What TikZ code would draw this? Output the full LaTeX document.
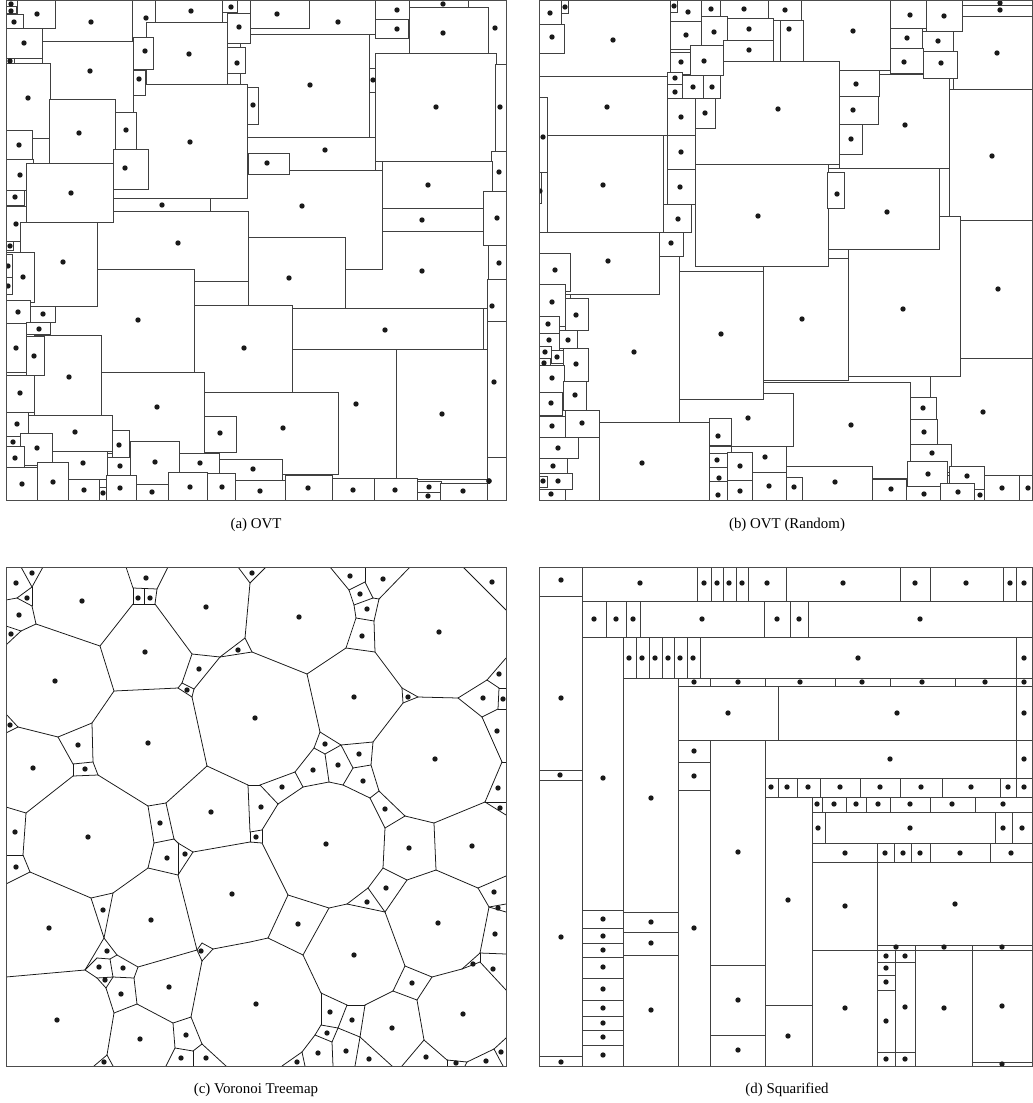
\documentclass[tikz,border=0pt]{standalone}
\usepackage{fontspec}
\setmainfont{Liberation Serif}

% cells: x1/y1/x2/y2/site x/site y (pixels, y downwards), drawn in this order
\newcommand{\cellsOVT}{42/0/132/41/91/22, 17/0/55/28/37/14, 6/0/17/6/11/4, 6/6/16/13/11/11,
  6/14/23/29/14/22, 6/28/42/58/24/43, 250/0/375/34/338/22, 250/0/309/28/277/14,
  132/0/155/37/146/18, 155/0/222/22/191/11, 222/0/237/12/231/7, 240/34/369/137/310/85,
  345/231/488/308/422/271, 210/170/382/269/302/206, 247/137/375/170/325/150,
  248/153/289/174/267/163, 97/211/248/281/178/243, 113/84/247/198/190/142,
  146/22/227/84/189/54, 227/13/250/43/239/27, 133/37/153/69/145/51, 133/70/145/95/139/79,
  227/47/245/73/237/63, 42/41/133/116/90/71, 6/63/50/138/28/98, 6/58/14/63/10/61,
  49/99/115/163/79/133, 115/112/136/149/126/130, 113/149/148/189/125/168,
  6/130/32/159/19/145, 6/159/33/190/20/175, 26/163/113/222/71/193, 113/198/210/211/162/205,
  6/190/24/205/15/197, 6/206/26/241/16/224, 247/87/258/124/253/105, 369/68/376/92/373/80,
  375/0/409/19/397/10, 375/19/408/38/397/29, 468/0/506/64/495/28, 409/0/468/7/443/4,
  409/7/488/53/443/33, 375/53/496/161/436/107, 495/64/506/151/500/107,
  491/151/506/191/499/172, 382/161/492/208/428/185, 382/208/483/231/422/220,
  483/191/506/245/497/218, 488/245/506/279/499/263, 487/279/506/321/492/306,
  487/321/506/457/494/382, 487/457/506/500/489/481, 248/237/345/318/289/278,
  194/305/292/392/244/348, 292/308/483/349/385/330, 292/349/396/478/356/404,
  396/349/487/480/442/414, 416/479/489/483/489/481, 50/269/194/372/138/320,
  20/222/97/306/63/262, 6/241/13/250/10/246, 6/252/34/302/23/277, 6/254/12/277/8/266,
  6/277/12/294/8/286, 6/300/30/323/18/312, 30/306/55/322/43/314, 26/322/50/334/39/329,
  6/323/26/372/16/348, 34/335/101/415/69/377, 26/336/44/375/34/356,
  101/372/204/453/157/407, 204/392/338/474/283/428, 204/416/236/452/220/433,
  6/375/34/412/20/393, 6/412/28/436/17/424, 28/415/112/451/75/432,
  112/430/129/457/119/445, 6/436/20/446/13/442, 20/433/52/465/37/448,
  6/446/24/468/15/458, 52/451/107/479/83/463, 107/457/133/475/120/466,
  130/441/179/485/155/462, 179/453/219/473/200/463, 219/459/282/480/253/469,
  6/467/37/500/22/484, 37/462/68/500/53/482, 68/479/99/500/84/490, 99/487/106/500/103/493,
  106/475/136/500/120/488, 136/484/168/500/152/492, 168/472/207/500/190/487,
  207/473/235/500/222/487, 235/480/285/500/260/491, 285/475/332/500/308/488,
  332/478/374/500/353/490, 374/478/417/500/395/490, 417/481/441/492/429/487,
  417/492/440/500/428/496, 440/483/487/500/463/491}

\newcommand{\cellsRnd}{539/0/670/76/613/40, 539/0/561/24/550/13, 561/0/568/13/565/7,
  539/24/564/53/552/37, 670/0/701/21/688/12, 670/0/677/12/674/6, 701/0/720/16/711/9,
  720/0/768/18/744/9, 768/0/801/20/785/10, 801/0/890/70/853/31, 890/0/926/28/910/15,
  953/16/1032/89/997/53, 926/0/962/31/944/16, 962/0/1032/5/1000/3, 962/5/1032/16/1000/10,
  695/61/839/164/778/109, 670/21/701/49/686/35, 701/16/727/45/714/32, 727/18/773/40/749/29,
  780/20/803/61/789/29, 723/40/773/61/749/50, 949/89/1032/220/992/156,
  839/74/949/168/905/125, 890/28/922/48/907/38, 922/31/953/51/938/41, 890/48/923/73/904/62,
  923/51/957/78/941/63, 839/70/879/96/856/84, 839/96/878/124/853/110,
  839/124/862/154/851/139, 670/52/690/74/681/62, 690/45/723/75/704/61,
  667/72/682/84/675/78, 667/84/682/101/675/92, 682/75/703/98/693/87, 703/75/720/98/712/87,
  667/98/695/135/681/117, 695/98/715/128/705/113, 539/76/667/135/607/107,
  547/135/663/233/603/185, 539/97/547/172/543/137, 539/172/541/203/540/191,
  667/135/695/169/681/152, 667/169/695/204/680/187, 930/358/1032/475/983/412,
  760/382/910/478/851/425, 679/393/793/446/748/418, 763/258/848/380/802/319,
  679/271/763/399/721/334, 695/164/828/266/758/216, 848/216/960/376/903/309,
  828/168/939/249/887/212, 827/172/844/208/837/194, 960/220/1032/358/998/289,
  570/255/679/422/634/352, 539/232/659/294/608/261, 663/204/691/232/678/219,
  659/232/683/256/671/243, 539/253/570/291/555/270, 539/284/565/326/552/302,
  565/298/588/330/576/315, 539/316/559/333/548/324, 539/333/559/350/549/340,
  559/330/577/348/568/340, 563/348/588/381/576/364, 538/346/551/358/545/352,
  551/350/563/363/557/357, 539/358/550/367/544/363, 539/365/564/392/552/378,
  563/381/586/410/575/395, 539/392/562/415/551/403, 539/416/565/437/552/426,
  565/410/599/437/582/423, 539/437/578/458/558/448, 539/458/567/473/553/466,
  539/473/572/489/558/481, 539/476/547/487/543/481, 539/489/565/500/551/494,
  599/422/709/500/642/463, 709/418/731/445/718/436, 731/446/786/472/765/457,
  709/453/727/467/717/460, 709/467/730/481/719/478, 727/452/752/480/740/466,
  709/481/727/500/718/495, 727/480/752/500/740/491, 752/472/786/500/769/486,
  786/466/872/500/835/482, 786/477/802/500/794/487, 872/479/906/500/891/489,
  910/397/936/419/923/408, 910/419/937/444/924/432, 910/444/951/472/932/453,
  907/461/947/486/928/474, 906/486/940/500/924/494, 949/466/984/490/967/476,
  940/483/974/500/958/492, 974/489/987/500/980/495, 984/475/1019/500/1002/488,
  1019/475/1032/500/1028/488}

\newcommand{\cellsSq}{539/567/582/596/561/580, 539/596/582/770/561/698, 539/770/582/780/560/775,
  539/780/582/1056/561/937, 539/1056/582/1066/561/1062, 582/567/697/601/640/583,
  697/567/711/601/704/583, 711/567/723/601/717/583, 723/567/736/601/729/583,
  736/567/748/601/742/583, 748/567/786/601/767/583, 786/567/900/601/843/583,
  900/567/930/601/915/583, 930/567/1003/601/966/583, 1003/567/1016/601/1010/583,
  1016/567/1032/601/1024/583, 582/601/606/637/594/619, 606/601/626/637/616/619,
  626/601/640/637/633/619, 640/601/764/637/702/619, 764/601/790/637/777/619,
  790/601/808/637/799/619, 808/601/1032/637/920/619, 582/637/623/910/603/778,
  582/910/623/928/603/919, 582/928/623/943/603/936, 582/943/623/957/603/950,
  582/957/623/978/603/967, 582/978/623/1000/603/989, 582/1000/623/1016/603/1008,
  582/1016/623/1030/603/1023, 582/1030/623/1045/603/1037, 582/1045/623/1066/603/1055,
  623/637/636/678/629/658, 636/637/649/678/642/658, 649/637/662/678/655/658,
  662/637/674/678/668/658, 674/637/687/678/680/658, 687/637/700/678/693/658,
  700/637/1016/678/858/658, 1016/637/1032/678/1024/658, 623/678/678/912/651/798,
  623/912/678/932/651/922, 623/932/678/955/651/943, 623/955/678/1066/651/1010,
  678/678/710/686/694/682, 710/678/765/686/738/682, 765/678/835/686/800/682,
  835/678/890/686/862/682, 890/678/955/686/922/682, 955/678/1016/686/985/682,
  1016/678/1032/686/1024/682, 678/686/778/740/728/713, 778/686/1016/740/897/713,
  1016/686/1032/740/1024/713, 678/740/710/762/694/751, 678/762/710/790/694/776,
  678/790/710/1066/694/928, 710/740/765/965/738/852, 710/965/765/1035/738/1000,
  710/1035/765/1066/738/1050, 765/740/1016/778/890/759, 1016/740/1032/778/1024/759,
  765/778/778/797/771/787, 778/778/797/797/787/787, 797/778/820/797/808/787,
  820/778/860/797/840/787, 860/778/900/797/880/787, 900/778/942/797/921/787,
  942/778/1000/797/971/787, 1000/778/1016/797/1008/787, 1016/778/1032/797/1024/787,
  765/797/812/1005/788/900, 765/1005/812/1066/788/1036, 812/797/822/812/817/804,
  822/797/846/812/834/804, 846/797/866/812/856/804, 866/797/890/812/878/804,
  890/797/930/812/910/804, 930/797/975/812/952/804, 975/797/1032/812/1003/804,
  812/812/825/843/818/828, 825/812/995/843/910/828, 995/812/1012/843/1003/828,
  1012/812/1032/843/1022/828, 812/843/877/862/845/853, 877/843/894/862/885/853,
  894/843/911/862/903/853, 911/843/930/862/920/853, 930/843/990/862/960/853,
  990/843/1032/862/1011/853, 812/862/877/950/845/906, 812/950/877/1066/845/1008,
  877/862/1032/945/955/904, 877/945/915/950/896/947, 915/945/972/950/944/947,
  972/945/1032/950/1002/947, 877/950/895/962/886/956, 895/950/915/962/905/956,
  877/962/895/975/886/968, 877/975/895/990/886/982, 877/990/895/1052/886/1021,
  895/962/915/1052/905/1007, 877/1052/895/1066/886/1059, 895/1052/915/1066/905/1059,
  915/950/972/1066/944/1008, 972/950/1032/1062/1002/1006, 972/1062/1032/1066/1002/1064}

% voronoi edges x1/y1/x2/y2
\newcommand{\edgesVor}{21/567/32/587, 43/567/32/587, 32/587/17/598, 6/600/17/598, 17/598/32/606,
  32/587/32/606, 32/606/36/624, 6/626/21/631, 21/631/36/624, 21/631/6/645, 36/624/100/646,
  100/646/114/691, 100/646/133/604, 126/567/133/588, 133/588/157/589, 157/589/168/567,
  133/588/133/604, 157/589/155/604, 133/604/155/604, 144/589/144/604, 155/604/192/654,
  192/654/220/657, 192/654/182/683, 182/683/178/688, 178/688/192/697, 192/697/194/689,
  194/689/182/683, 194/689/220/657, 114/691/178/688, 192/697/207/766, 114/691/92/723,
  92/723/58/737, 58/737/18/727, 6/714/18/727, 18/727/6/733, 58/737/73/764, 92/723/93/762,
  73/764/93/762, 93/762/98/775, 73/764/73/776, 73/776/98/775, 73/776/26/813,
  98/775/148/806, 26/813/6/807, 26/813/23/855, 148/806/166/803, 166/803/207/766,
  148/806/154/843, 166/803/174/839, 207/766/248/785, 248/785/260/785, 248/785/250/832,
  220/657/245/638, 245/638/252/652, 220/657/252/652, 245/638/250/583, 250/583/238/567,
  250/583/266/567,
  252/652/307/674, 307/674/346/648, 307/674/320/732, 346/648/356/618, 356/618/374/621,
  374/621/375/652, 346/648/375/652, 356/618/354/605, 354/605/373/598, 373/598/379/599,
  379/599/374/621, 354/605/349/590, 349/590/365/582, 365/582/373/598, 349/590/330/567,
  365/582/365/567, 379/599/410/567, 463/567/506/610, 375/652/402/688, 402/688/418/697,
  402/688/403/703, 403/703/418/697, 418/697/458/698, 403/703/373/742, 458/698/487/680,
  487/680/506/658, 458/698/482/717, 487/680/499/688, 499/688/506/688, 499/688/498/709,
  498/709/482/717, 498/709/506/709, 482/717/502/762, 502/762/506/762, 502/762/485/802,
  485/802/506/802, 485/802/506/815, 485/802/434/823, 405/816/379/791, 379/791/371/765,
  371/765/373/742, 371/765/353/768, 353/768/341/745, 341/745/373/742, 341/745/325/754,
  325/754/329/782, 329/782/343/785, 343/785/353/768, 343/785/370/798, 370/798/379/791,
  370/798/385/828, 320/732/341/745, 320/732/314/748, 314/748/325/754, 314/748/295/772,
  295/772/303/787, 303/787/329/782, 295/772/260/785, 260/785/278/804, 278/804/303/787,
  278/804/262/830,
  6/855/23/855, 23/855/30/872, 30/872/6/884, 30/872/91/898, 91/898/113/893,
  113/893/148/868, 148/868/154/843, 154/843/174/839, 174/839/178/843, 178/843/193/852,
  178/843/178/875, 148/868/178/875, 178/875/193/852, 193/852/250/842, 178/875/197/950,
  91/898/104/938, 113/893/104/938, 104/938/85/970, 85/970/6/977, 104/938/117/955,
  117/955/138/967, 138/967/197/950, 197/950/202/943, 202/943/213/949, 213/949/202/961,
  202/961/197/950, 213/949/250/942, 202/961/191/1017, 85/970/97/978, 97/978/106/988,
  106/988/114/1013, 114/1013/137/1004, 137/1004/134/978, 134/978/138/967,
  134/978/113/977, 113/977/110/959, 110/959/117/955, 110/959/97/958, 97/958/85/970,
  97/978/113/977, 113/977/106/988, 137/1004/173/1023, 173/1023/191/1017,
  173/1023/175/1048, 175/1048/193/1051, 193/1051/202/1044, 202/1044/191/1017,
  175/1048/166/1066, 193/1051/193/1066, 202/1044/226/1066, 114/1013/107/1055,
  107/1055/94/1066, 107/1055/113/1066,
  250/832/262/830, 262/830/262/843, 262/843/250/842, 250/832/250/842, 262/843/288/895,
  288/895/329/908, 288/895/268/938, 268/938/250/942, 268/938/303/955, 303/955/329/908,
  303/955/321/993, 329/908/347/904, 347/904/368/888, 368/888/385/912, 347/904/385/912,
  368/888/383/868, 383/868/407/880, 407/880/385/912, 383/868/385/828, 385/828/405/816,
  405/816/434/823, 434/823/436/870, 436/870/407/880, 436/870/478/888, 478/888/506/876,
  478/888/489/907, 489/907/506/904, 489/907/506/912, 489/907/480/953, 480/953/506/954,
  480/953/462/969, 462/969/480/962, 480/962/480/953, 480/962/506/990, 462/969/432/977,
  432/977/405/966, 405/966/385/912, 405/966/393/991, 393/991/417/1000, 417/1000/432/977,
  393/991/365/1005, 365/1005/347/1005, 347/1005/321/993, 321/993/321/1025,
  321/1025/338/1028, 338/1028/347/1005, 338/1028/360/1037, 360/1037/365/1005,
  338/1028/332/1042, 332/1042/315/1035, 315/1035/321/1025, 332/1042/333/1066,
  315/1035/302/1052, 302/1052/282/1066, 302/1052/305/1066, 360/1037/355/1066,
  360/1037/392/1066, 417/1000/424/1040, 424/1040/402/1066, 424/1040/447/1060,
  447/1060/467/1062, 467/1062/494/1049, 494/1049/506/1038, 494/1049/503/1066,
  447/1060/447/1066, 467/1062/465/1066}

\newcommand{\sitesVor}{16/583, 32/573, 27/598, 19/615, 11/634, 82/601, 146/578, 138/598, 150/598,
  206/607, 145/652, 55/681, 199/669, 187/690, 238/650, 252/573, 255/718, 10/725, 78/745,
  33/768, 85/769, 148/743, 211/812, 160/823, 261/807, 350/576, 383/579, 492/582, 299/617,
  360/594, 367/609, 362/636, 439/632, 354/697, 408/697, 499/674, 483/698, 503/699, 497/731,
  435/759, 325/744, 359/754, 313/770, 338/765, 363/781, 282/787, 385/809, 498/788, 500/808,
  15/832, 16/867, 88/837, 167/858, 185/854, 256/837, 103/910, 151/920, 49/928, 232/894,
  201/951, 107/951, 99/967, 123/968, 105/980, 121/994, 169/987, 57/1020, 140/1039,
  186/1035, 256/1004, 181/1058, 206/1058, 104/1062, 326/844, 409/848, 472/846, 298/924,
  367/902, 386/888, 438/923, 494/892, 498/908, 495/934, 354/955, 473/964, 493/969,
  412/983, 463/1014, 330/1012, 352/1020, 392/1028, 327/1033, 318/1053, 346/1051,
  297/1062, 369/1059, 426/1057, 456/1063, 486/1061, 501/1052}

\begin{document}
\begin{tikzpicture}[x=0.025cm, y=-0.025cm]
  \tikzstyle{cell}=[draw=black!75, fill=white, line width=0.55pt]
  \tikzstyle{site}=[fill=black!90]
  \tikzstyle{vedge}=[draw=black!90, line width=0.55pt, line cap=round]
  \tikzstyle{frame}=[draw=black!70, line width=0.6pt]
  \tikzstyle{caption}=[font=\fontsize{10.6}{12}\selectfont, inner sep=0pt]
  \useasboundingbox (0,0) rectangle (1032,1103);

  % (a) OVT
  \begin{scope}
    \clip (6,0) rectangle (506,500);
    \foreach \xa/\ya/\xb/\yb/\px/\py in \cellsOVT {\draw[cell] (\xa,\ya) rectangle (\xb,\yb);}
    \foreach \xa/\ya/\xb/\yb/\px/\py in \cellsOVT {\fill[site] (\px,\py) circle (1.9pt);}
  \end{scope}
  \draw[frame] (6,0) rectangle (506,500);
  \node[caption] (capA) at (256,525) {(a) OVT};

  % (b) OVT, random order
  \begin{scope}
    \clip (539,0) rectangle (1032,500);
    \foreach \xa/\ya/\xb/\yb/\px/\py in \cellsRnd {\draw[cell] (\xa,\ya) rectangle (\xb,\yb);}
    \foreach \xa/\ya/\xb/\yb/\px/\py in \cellsRnd {\fill[site] (\px,\py) circle (1.9pt);}
  \end{scope}
  \draw[frame] (539,0) rectangle (1032,500);
  \node[caption] (capB) at (787,525) {(b) OVT (Random)};

  % (c) Voronoi treemap
  \begin{scope}
    \clip (6,567) rectangle (506,1066);
    \foreach \xa/\ya/\xb/\yb in \edgesVor {\draw[vedge] (\xa,\ya) -- (\xb,\yb);}
    \foreach \px/\py in \sitesVor {\fill[site] (\px,\py) circle (1.9pt);}
  \end{scope}
  \draw[frame] (6,567) rectangle (506,1066);
  \node[caption] (capC) at (256,1090) {(c) Voronoi Treemap};

  % (d) squarified
  \begin{scope}
    \clip (539,567) rectangle (1032,1066);
    \foreach \xa/\ya/\xb/\yb/\px/\py in \cellsSq {\draw[cell] (\xa,\ya) rectangle (\xb,\yb);}
    \foreach \xa/\ya/\xb/\yb/\px/\py in \cellsSq {\fill[site] (\px,\py) circle (1.9pt);}
  \end{scope}
  \draw[frame] (539,567) rectangle (1032,1066);
  \node[caption] (capD) at (787,1090) {(d) Squarified};
\end{tikzpicture}
\end{document}
